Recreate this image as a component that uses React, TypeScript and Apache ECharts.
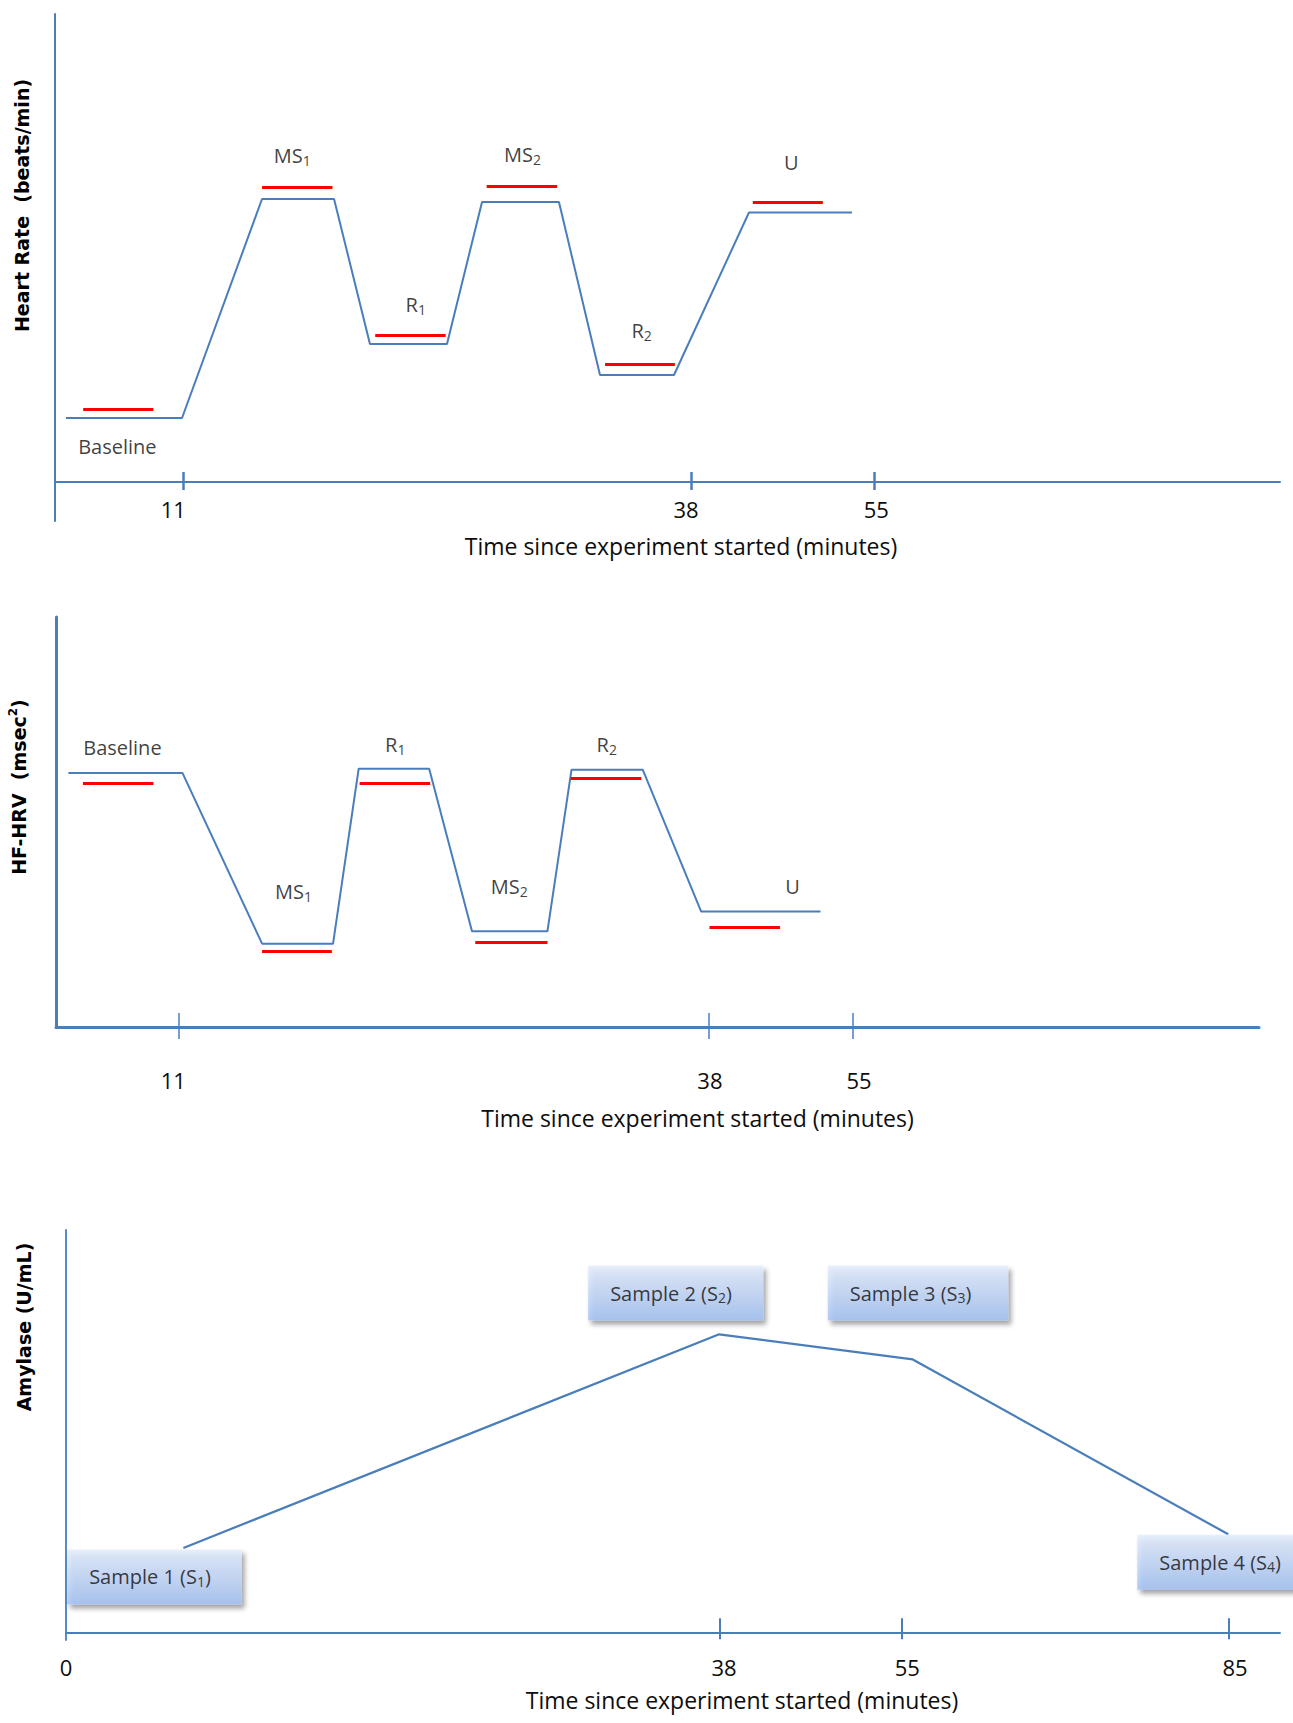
import React, { useEffect, useRef } from "react";
import * as echarts from "echarts";

// ---------- DATA (schematic units: x = position along the time axis 0–100, y = level 0–100) ----------
// Panel 1: Heart rate
const hrLineX = [0.9, 10.37, 16.9, 22.78, 25.71, 32.0, 34.86, 41.14, 44.49, 50.53, 56.65, 65.06];
const hrLineY = [13.68, 13.68, 60.47, 60.47, 29.49, 29.49, 59.83, 59.83, 22.86, 22.86, 57.59, 57.59];
const hrPhases = ["Baseline", "MS1", "R1", "MS2", "R2", "U"];
const hrMeanStart = [2.3, 16.9, 26.14, 35.24, 44.9, 56.96];
const hrMeanEnd = [8.03, 22.65, 31.89, 40.99, 50.6, 62.68];
const hrMeanLevel = [15.53, 63.01, 31.32, 63.23, 25.09, 59.87];
const hrPhaseLabelX = [5.09, 19.37, 29.45, 38.16, 47.89, 60.11];
const hrPhaseLabelY = [7.61, 69.79, 37.97, 70.02, 32.33, 68.27];
const hrTickPos = [10.51, 51.97, 66.89];
const hrTickLabelPos = [9.66, 51.51, 67.04];
const hrTickLabels = ["11", "38", "55"];

// Panel 2: HF-HRV
const hrvLineX = [1.03, 10.51, 17.13, 23.03, 25.16, 31.02, 34.58, 40.85, 42.85, 48.78, 53.63, 63.55];
const hrvLineY = [61.98, 61.98, 20.32, 20.32, 63.0, 63.0, 23.34, 23.34, 62.73, 62.73, 28.15, 28.15];
const hrvPhases = ["Baseline", "MS1", "R1", "MS2", "R2", "U"];
const hrvMeanStart = [2.24, 17.13, 25.24, 34.85, 42.78, 54.32];
const hrvMeanEnd = [8.1, 22.93, 31.1, 40.85, 48.65, 60.18];
const hrvMeanLevel = [59.39, 18.39, 59.39, 20.73, 60.56, 24.37];
const hrvPhaseLabelX = [5.52, 19.75, 28.2, 37.68, 45.78, 61.22];
const hrvPhaseLabelY = [68.05, 33.17, 68.88, 34.27, 68.88, 34.27];
const hrvTickPos = [10.17, 54.25, 66.21];
const hrvTickLabelPos = [9.75, 54.36, 66.76];
const hrvTickLabels = ["11", "38", "55"];

// Panel 3: Amylase
const amySampleNo = [1, 2, 3, 4];
const amyX = [9.67, 53.8, 69.75, 95.74];
const amyY = [20.98, 74.07, 67.83, 24.36];
const amyTickPos = [53.83, 68.86, 95.77];
const amyTickLabelPos = [0, 54.21, 69.3, 96.29];
const amyTickLabels = ["0", "38", "55", "85"];

const xTitle = "Time since experiment started (minutes)";

// ---------- STYLE ----------
const BLUE = "#4a7ebb";
const RED = "#ff0000";
const TEXT = "#0d0d0d";
const FONT = "'Open Sans', 'Noto Sans', sans-serif";
const BOLD_FONT = "'DejaVu Sans', Verdana, sans-serif";

const sampleBoxOffsets = [[-29, 29], [-43.5, -41.3], [5.2, -66.4], [-3.5, 27.9]];
const sampleBoxWidths = [174.5, 175, 180.4, 175];

const panels = [
  { grid: { left: 55, top: 14, width: 1225, height: 507 }, yMin: -8.33, axisW: 2, tickW: 2.5, above: 10, below: 8,
    labelMargin: -23.5, nameGap: 13.5, nameShift: 13.5, yNameGap: 24, yNameUp: 62 },
  { grid: { left: 56, top: 617, width: 1203, height: 410 }, yMin: 0, axisW: 3, tickW: 1.5, above: 14, below: 12,
    labelMargin: 42, nameGap: 79.5, nameShift: 40, yNameGap: 25, yNameUp: 35 },
  { grid: { left: 66, top: 1230, width: 1214, height: 410 }, yMin: -1.91, axisW: 1.8, tickW: 2, above: 14, below: 7,
    labelMargin: 15.5, nameGap: 48.5, nameShift: 69, yNameGap: 33, yNameUp: 108 },
];

const yNames = ["Heart Rate  (beats/min)", "{b|HF-HRV  (msec}{p|2}{b|)}", "Amylase (U/mL)"];
const tickSets = [
  [hrTickPos, hrTickLabelPos, hrTickLabels],
  [hrvTickPos, hrvTickLabelPos, hrvTickLabels],
  [amyTickPos, amyTickLabelPos, amyTickLabels],
] as const;

const phaseRich = {
  n: { fontFamily: FONT, fontSize: 20, color: TEXT, lineHeight: 24 },
  s: { fontFamily: FONT, fontSize: 14, color: TEXT, lineHeight: 15, verticalAlign: "bottom" },
};

function phaseText(name: string) {
  const m = name.match(/^(\D+)(\d*)$/);
  if (!m || !m[2]) return `{n|${name}}`;
  return `{n|${m[1]}}{s|${m[2]}}`;
}

function buildOption() {
  const grid: any[] = [];
  const xAxis: any[] = [];
  const yAxis: any[] = [];
  panels.forEach((p, i) => {
    grid.push({ ...p.grid, containLabel: false, outerBoundsMode: "none" });
    const [ticks, labelPos, labels] = tickSets[i];
    xAxis.push({
      type: "value", gridIndex: i, min: 0, max: 100, position: "bottom",
      axisLine: { show: true, onZero: true, onZeroAxisIndex: i, lineStyle: { color: BLUE, width: p.axisW } },
      axisTick: { show: true, customValues: ticks as any, inside: false, length: p.below, lineStyle: { color: BLUE, width: p.tickW } },
      axisLabel: {
        show: true, customValues: labelPos as any, margin: p.labelMargin, fontFamily: FONT, fontSize: 22, color: TEXT,
        formatter: (v: number) => {
          const k = (labelPos as readonly number[]).findIndex((q) => Math.abs(q - v) < 1e-6);
          return k >= 0 ? labels[k] : "";
        },
      },
      splitLine: { show: false },
      name: xTitle, nameLocation: "middle", nameGap: p.nameGap,
      nameTextStyle: { fontFamily: FONT, fontSize: 23, color: TEXT, padding: [0, 0, 0, p.nameShift * 2] },
    });
    xAxis.push({
      type: "value", gridIndex: i, min: 0, max: 100, position: "bottom",
      axisLine: { show: false, onZero: true, onZeroAxisIndex: i },
      axisTick: { show: true, customValues: ticks as any, inside: true, length: p.above, lineStyle: { color: BLUE, width: p.tickW } },
      axisLabel: { show: false },
      splitLine: { show: false },
    });
    yAxis.push({
      type: "value", gridIndex: i, min: p.yMin, max: 100,
      axisLine: { show: true, onZero: false, lineStyle: { color: BLUE, width: p.axisW } },
      axisTick: { show: false }, axisLabel: { show: false }, splitLine: { show: false },
      name: yNames[i], nameLocation: "middle", nameRotate: 90, nameGap: p.yNameGap,
      nameTextStyle: {
        fontFamily: BOLD_FONT, fontWeight: "bold", fontSize: 19, color: "#000",
        padding: [0, 0, 0, p.yNameUp * 2],
        rich: {
          b: { fontFamily: BOLD_FONT, fontWeight: "bold", fontSize: 19, color: "#000", lineHeight: 24 },
          p: { fontFamily: BOLD_FONT, fontWeight: "bold", fontSize: 12, color: "#000", lineHeight: 13, verticalAlign: "top" },
        },
      },
    });
  });

  const series: any[] = [];
  const phasePanels = [
    { x: hrLineX, y: hrLineY, names: hrPhases, ms: hrMeanStart, me: hrMeanEnd, ml: hrMeanLevel, lx: hrPhaseLabelX, ly: hrPhaseLabelY },
    { x: hrvLineX, y: hrvLineY, names: hrvPhases, ms: hrvMeanStart, me: hrvMeanEnd, ml: hrvMeanLevel, lx: hrvPhaseLabelX, ly: hrvPhaseLabelY },
  ];
  phasePanels.forEach((d, i) => {
    series.push({
      type: "line", xAxisIndex: i * 2, yAxisIndex: i, symbol: "none", silent: true, z: 3,
      lineStyle: { color: BLUE, width: 2 },
      data: d.x.map((x, k) => [x, d.y[k]]),
    });
    series.push({
      type: "lines", coordinateSystem: "cartesian2d", xAxisIndex: i * 2, yAxisIndex: i, silent: true, z: 4,
      lineStyle: { color: RED, width: 3, opacity: 1, curveness: 0 },
      data: d.ms.map((s, k) => ({ coords: [[s, d.ml[k]], [d.me[k], d.ml[k]]] })),
    });
    series.push({
      type: "scatter", xAxisIndex: i * 2, yAxisIndex: i, silent: true, z: 5,
      symbolSize: 1, itemStyle: { color: "rgba(0,0,0,0)" },
      label: { show: true, position: "inside", formatter: (pp: any) => phaseText(pp.name), rich: phaseRich },
      data: d.lx.map((x, k) => ({ name: d.names[k], value: [x, d.ly[k]] })),
    });
  });

  // Amylase
  series.push({
    type: "line", xAxisIndex: 4, yAxisIndex: 2, symbol: "none", silent: true, z: 3,
    lineStyle: { color: BLUE, width: 2.2 },
    data: amyX.map((x, k) => [x, amyY[k]]),
  });
  const boxGradient = new echarts.graphic.LinearGradient(0, 0, 0, 1, [
    { offset: 0, color: "#e2ecfc" },
    { offset: 1, color: "#9fbff3" },
  ]);
  series.push({
    type: "scatter", xAxisIndex: 4, yAxisIndex: 2, silent: true, z: 6,
    symbolSize: 1, itemStyle: { color: "rgba(0,0,0,0)" },
    label: {
      show: true, position: "inside",
      formatter: (pp: any) => `{t|Sample ${pp.name} (S}{s|${pp.name}}{t|)}`,
      backgroundColor: boxGradient,
      padding: [16, 0, 16, 22],
      shadowColor: "rgba(0,0,0,0.45)", shadowBlur: 5, shadowOffsetX: 3, shadowOffsetY: 4,
      rich: {
        t: { fontFamily: FONT, fontSize: 20, color: TEXT, lineHeight: 23, align: "left" },
        s: { fontFamily: FONT, fontSize: 14, color: TEXT, lineHeight: 15, verticalAlign: "bottom", align: "left" },
      },
    },
    data: amySampleNo.map((n, k) => ({
      name: String(n),
      value: [amyX[k], amyY[k]],
      label: { offset: sampleBoxOffsets[k], width: sampleBoxWidths[k] - 22 },
    })),
  });

  return { animation: false, backgroundColor: "#ffffff", grid, xAxis, yAxis, series };
}

export default function App() {
  const ref = useRef<HTMLDivElement>(null);
  useEffect(() => {
    document.body.style.margin = "0";
    const chart = echarts.init(ref.current!, undefined, { renderer: "svg" });
    chart.setOption(buildOption() as any);
    return () => chart.dispose();
  }, []);
  return (
    <div
      ref={ref}
      style={{ position: "absolute", left: 0, top: 0, width: 1293, height: 1723, background: "#fff" }}
    />
  );
}
